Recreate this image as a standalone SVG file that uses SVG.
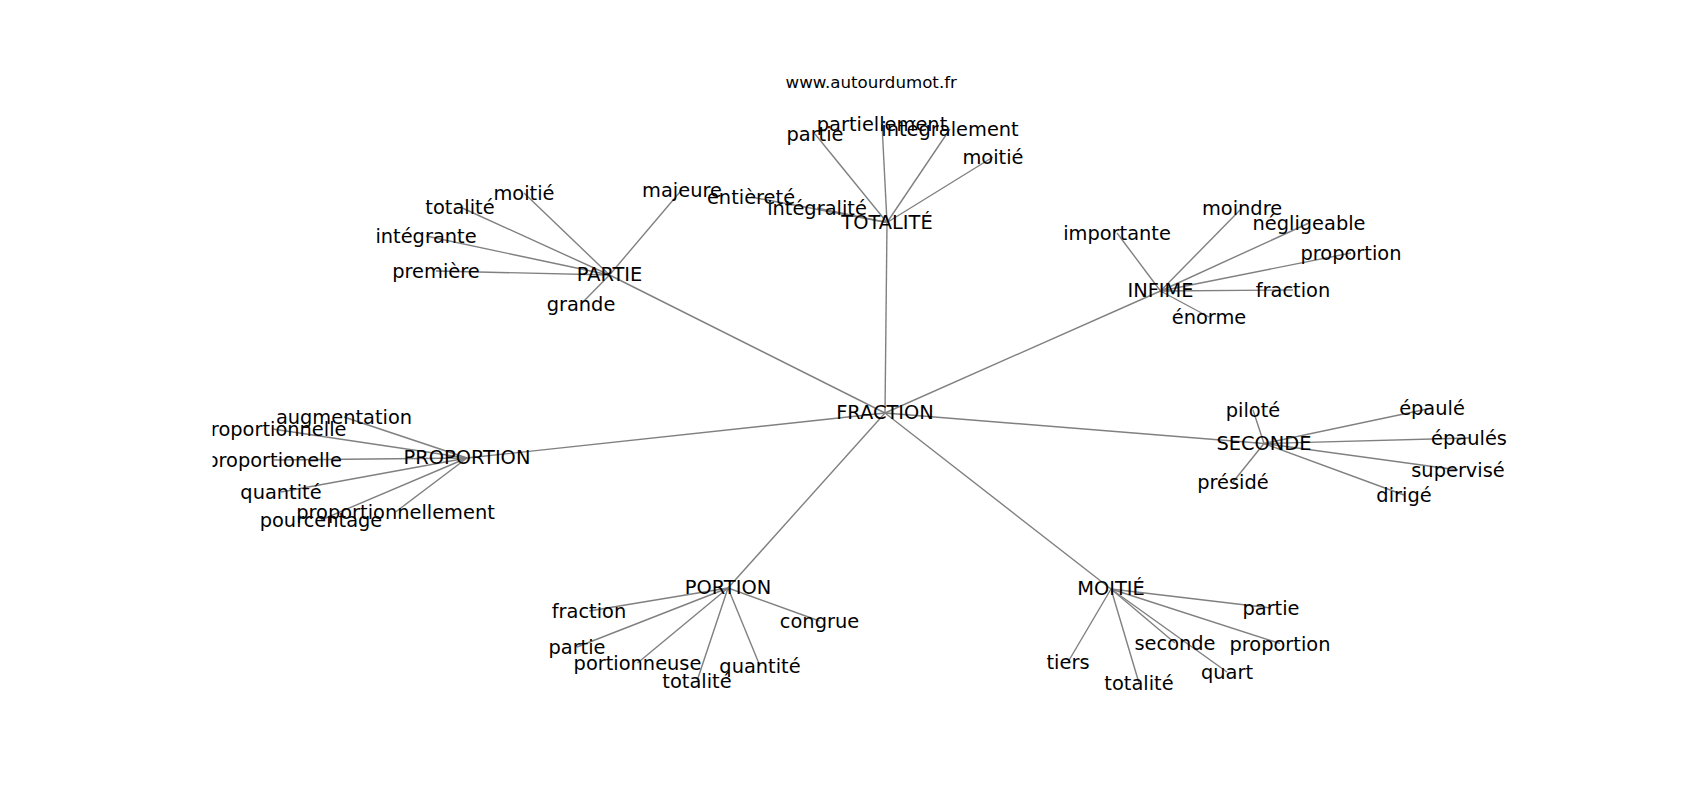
<svg xmlns="http://www.w3.org/2000/svg" width="1700" height="800" viewBox="0 0 1700 800">
<style>
.e line { stroke: #808080; stroke-width: 1.4; fill: none; }
text { font-family: "DejaVu Sans", sans-serif; fill: #000; }
.n text { font-size: 19.4px; text-anchor: middle; }
.t { font-size: 16.67px; text-anchor: middle; }
</style>
<defs>
<clipPath id="ax"><rect x="212.5" y="96" width="1317.5" height="616"/></clipPath>
</defs>
<rect width="1700" height="800" fill="#fff"/>
<text class="t" x="871.25" y="88">www.autourdumot.fr</text>
<g id="connectors" class="e" clip-path="url(#ax)">
<line x1="885" y1="413" x2="887" y2="222.5"/>
<line x1="885" y1="413" x2="609.5" y2="275"/>
<line x1="885" y1="413" x2="1160.5" y2="291"/>
<line x1="885" y1="413" x2="467" y2="458"/>
<line x1="885" y1="413" x2="1264" y2="443.5"/>
<line x1="885" y1="413" x2="728" y2="588"/>
<line x1="885" y1="413" x2="1111" y2="589"/>
<line x1="887" y1="222.5" x2="815" y2="134"/>
<line x1="887" y1="222.5" x2="882" y2="124"/>
<line x1="887" y1="222.5" x2="950" y2="129"/>
<line x1="887" y1="222.5" x2="993" y2="157"/>
<line x1="887" y1="222.5" x2="751" y2="197"/>
<line x1="887" y1="222.5" x2="817" y2="208"/>
<line x1="609.5" y1="275" x2="524" y2="193"/>
<line x1="609.5" y1="275" x2="460" y2="207"/>
<line x1="609.5" y1="275" x2="426" y2="236"/>
<line x1="609.5" y1="275" x2="436" y2="271"/>
<line x1="609.5" y1="275" x2="581" y2="304"/>
<line x1="609.5" y1="275" x2="682" y2="189.5"/>
<line x1="1160.5" y1="291" x2="1117" y2="233"/>
<line x1="1160.5" y1="291" x2="1242" y2="208"/>
<line x1="1160.5" y1="291" x2="1309" y2="223"/>
<line x1="1160.5" y1="291" x2="1351" y2="253"/>
<line x1="1160.5" y1="291" x2="1293" y2="290"/>
<line x1="1160.5" y1="291" x2="1209" y2="317"/>
<line x1="1264" y1="443.5" x2="1253" y2="410"/>
<line x1="1264" y1="443.5" x2="1233" y2="482"/>
<line x1="1264" y1="443.5" x2="1432" y2="408"/>
<line x1="1264" y1="443.5" x2="1469" y2="438"/>
<line x1="1264" y1="443.5" x2="1458" y2="470"/>
<line x1="1264" y1="443.5" x2="1404" y2="495"/>
<line x1="467" y1="458" x2="344" y2="417"/>
<line x1="467" y1="458" x2="272.5" y2="429"/>
<line x1="467" y1="458" x2="274" y2="460"/>
<line x1="467" y1="458" x2="281" y2="492"/>
<line x1="467" y1="458" x2="395.5" y2="512"/>
<line x1="467" y1="458" x2="321" y2="520"/>
<line x1="728" y1="588" x2="589" y2="611"/>
<line x1="728" y1="588" x2="819.5" y2="621"/>
<line x1="728" y1="588" x2="577" y2="647"/>
<line x1="728" y1="588" x2="637.5" y2="663"/>
<line x1="728" y1="588" x2="760" y2="666"/>
<line x1="728" y1="588" x2="697" y2="681"/>
<line x1="1111" y1="589" x2="1271" y2="608"/>
<line x1="1111" y1="589" x2="1280" y2="643.5"/>
<line x1="1111" y1="589" x2="1175" y2="643"/>
<line x1="1111" y1="589" x2="1068" y2="662"/>
<line x1="1111" y1="589" x2="1227" y2="672"/>
<line x1="1111" y1="589" x2="1139" y2="683"/>
</g>
<g class="n" clip-path="url(#ax)">
<g id="n-fraction"><text x="885" y="419">FRACTION</text></g>
<g id="n-totalite"><text x="887" y="228.5">TOTALITÉ</text></g>
<g id="n-partie"><text x="609.5" y="281">PARTIE</text></g>
<g id="n-infime"><text x="1160.5" y="297">INFIME</text></g>
<g id="n-proportion"><text x="467" y="463.5">PROPORTION</text></g>
<g id="n-seconde"><text x="1264" y="449.5">SECONDE</text></g>
<g id="n-portion"><text x="728" y="594">PORTION</text></g>
<g id="n-moitie"><text x="1111" y="595">MOITIÉ</text></g>

<g id="t-partie"><text x="815" y="141">partie</text></g>
<g id="t-partiellement"><text x="882" y="131">partiellement</text></g>
<g id="t-integralement"><text x="950" y="136">intégralement</text></g>
<g id="t-moitie"><text x="993" y="164">moitié</text></g>
<g id="t-entierete"><text x="751" y="204">entièreté</text></g>
<g id="t-integralite"><text x="817" y="215">intégralité</text></g>

<g id="p-moitie"><text x="524" y="200">moitié</text></g>
<g id="p-totalite"><text x="460" y="214">totalité</text></g>
<g id="p-integrante"><text x="426" y="243">intégrante</text></g>
<g id="p-premiere"><text x="436" y="278">première</text></g>
<g id="p-grande"><text x="581" y="311">grande</text></g>
<g id="p-majeure"><text x="682" y="196.5">majeure</text></g>

<g id="i-importante"><text x="1117" y="240">importante</text></g>
<g id="i-moindre"><text x="1242" y="215">moindre</text></g>
<g id="i-negligeable"><text x="1309" y="230">négligeable</text></g>
<g id="i-proportion"><text x="1351" y="260">proportion</text></g>
<g id="i-fraction"><text x="1293" y="297">fraction</text></g>
<g id="i-enorme"><text x="1209" y="324">énorme</text></g>

<g id="s-pilote"><text x="1253" y="417">piloté</text></g>
<g id="s-preside"><text x="1233" y="489">présidé</text></g>
<g id="s-epaule"><text x="1432" y="415">épaulé</text></g>
<g id="s-epaules"><text x="1469" y="445">épaulés</text></g>
<g id="s-supervise"><text x="1458" y="477">supervisé</text></g>
<g id="s-dirige"><text x="1404" y="502">dirigé</text></g>

<g id="r-augmentation"><text x="344" y="424">augmentation</text></g>
<g id="r-proportionnelle"><text x="272.5" y="436">proportionnelle</text></g>
<g id="r-proportionelle"><text x="274" y="467">proportionelle</text></g>
<g id="r-quantite"><text x="281" y="499">quantité</text></g>
<g id="r-proportionnellement"><text x="395.5" y="519">proportionnellement</text></g>
<g id="r-pourcentage"><text x="321" y="527">pourcentage</text></g>

<g id="o-fraction"><text x="589" y="618">fraction</text></g>
<g id="o-congrue"><text x="819.5" y="628">congrue</text></g>
<g id="o-partie"><text x="577" y="654">partie</text></g>
<g id="o-portionneuse"><text x="637.5" y="670">portionneuse</text></g>
<g id="o-quantite"><text x="760" y="673">quantité</text></g>
<g id="o-totalite"><text x="697" y="688">totalité</text></g>

<g id="m-partie"><text x="1271" y="615">partie</text></g>
<g id="m-proportion"><text x="1280" y="650.5">proportion</text></g>
<g id="m-seconde"><text x="1175" y="650">seconde</text></g>
<g id="m-tiers"><text x="1068" y="669">tiers</text></g>
<g id="m-quart"><text x="1227" y="679">quart</text></g>
<g id="m-totalite"><text x="1139" y="690">totalité</text></g>
</g>
</svg>
